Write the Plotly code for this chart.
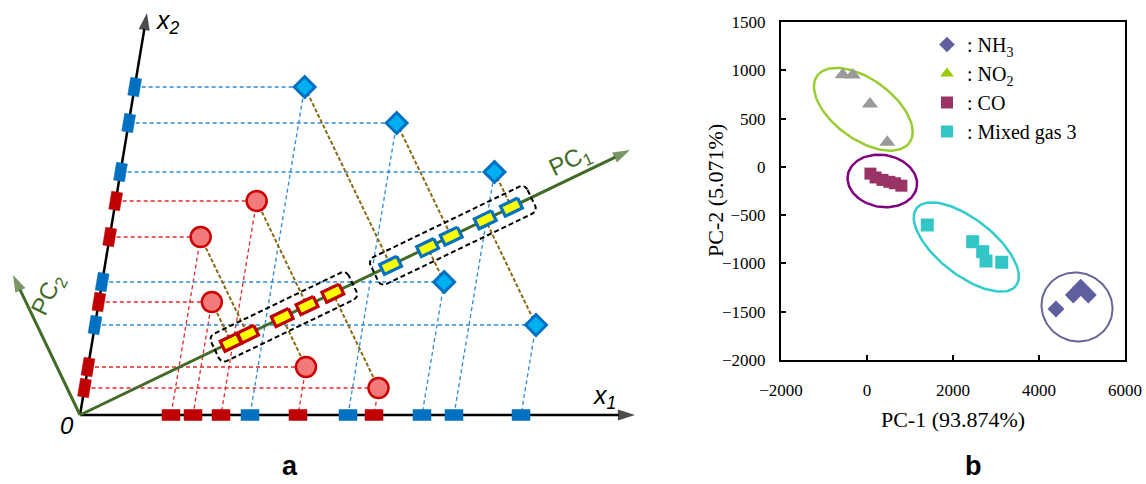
import numpy as np
import plotly.graph_objects as go

# ---------------- Panel a data (oblique coordinates along x1 / x2 axes) ----------------
red_x1 = [141, 91, 113, 218, 294]
red_x2 = [214, 178, 113, 48, 27]
blue_x1 = [170, 268, 374, 342, 441]
blue_x2 = [328, 292, 243, 133, 90]
x1_axis_len = 555
x2_axis_len = 402
pc1_tip = [550, 265]
pc2_tip = [-67, 140]

# ---------------- Panel b data ----------------
nh3_pc1 = [4395, 4798, 4970, 5147]
nh3_pc2 = [-1472, -1327, -1247, -1327]
no2_pc1 = [-565, -332, 70, 472]
no2_pc2 = [955, 950, 651, 255]
co_pc1 = [80, 200, 360, 520, 650, 800]
co_pc2 = [-70, -110, -135, -155, -170, -195]
mix_pc1 = [1402, 2458, 2691, 2767, 3132]
mix_pc2 = [-602, -775, -878, -975, -988]

x_ticks = [-2000, 0, 2000, 4000, 6000]
y_ticks = [-2000, -1500, -1000, -500, 0, 500, 1000, 1500]

# ---------------- geometry helpers ----------------
SLANT = 67 / 402  # x2 axis lean


def to_xy(a, b):
    return a + SLANT * b, b


def unit(v):
    v = np.asarray(v, float)
    return v / np.linalg.norm(v)


U = unit(pc1_tip)
V = np.array([-U[1], U[0]])
E2 = unit([SLANT, 1])


def rect_poly(c, u, L, W):
    v = np.array([-u[1], u[0]])
    xs, ys = [], []
    for sa, sb in [(1, 1), (1, -1), (-1, -1), (-1, 1), (1, 1)]:
        p = c + sa * L / 2 * u + sb * W / 2 * v
        xs.append(p[0]); ys.append(p[1])
    return xs, ys


def multi(polys):
    X, Y = [], []
    for xs, ys in polys:
        X += list(xs) + [None]
        Y += list(ys) + [None]
    return X, Y


def rounded_box(t0, t1, h, r, n=10):
    pts = []
    corners = [(t1 - r, h - r, 0), (t0 + r, h - r, 90), (t0 + r, -h + r, 180), (t1 - r, -h + r, 270)]
    for cs, cw, a0 in corners:
        for ang in np.radians(np.linspace(a0, a0 + 90, n)):
            pts.append((cs + r * np.cos(ang), cw + r * np.sin(ang)))
    pts.append(pts[0])
    xs = [s * U[0] + w * V[0] for s, w in pts]
    ys = [s * U[1] + w * V[1] for s, w in pts]
    return xs, ys


fig = go.Figure()

RED_DASH = '#e02a2a'
BLUE_DASH = '#2a8ad8'
BROWN = '#8a6a12'
RED = '#c00000'
BLUE = '#0070c0'
GREEN = '#416b26'


def proj_lines(x1s, x2s):
    X, Y = [], []
    for a, b in zip(x1s, x2s):
        px, py = to_xy(a, b)
        X += [SLANT * b, px, a, None]
        Y += [b, py, 0, None]
    return X, Y


def feet(x1s, x2s):
    out = []
    for a, b in zip(x1s, x2s):
        p = np.array(to_xy(a, b))
        t = p @ U
        out.append((t, t * U, p))
    return out


for x1s, x2s, col in [(red_x1, red_x2, RED_DASH), (blue_x1, blue_x2, BLUE_DASH)]:
    X, Y = proj_lines(x1s, x2s)
    fig.add_trace(go.Scatter(x=X, y=Y, mode='lines', line=dict(color=col, width=1.3, dash='4px,3px'),
                             hoverinfo='skip', showlegend=False, xaxis='x', yaxis='y'))

red_feet = feet(red_x1, red_x2)
blue_feet = feet(blue_x1, blue_x2)
X, Y = [], []
for t, f, p in red_feet + blue_feet:
    X += [p[0], f[0], None]
    Y += [p[1], f[1], None]
fig.add_trace(go.Scatter(x=X, y=Y, mode='lines', line=dict(color=BROWN, width=2, dash='4px,2px'),
                         hoverinfo='skip', showlegend=False, xaxis='x', yaxis='y'))

# axes lines with arrowheads
x2_tip = np.array(to_xy(0, x2_axis_len))
for tip, col, w in [((x1_axis_len, 0), 'black', 2.5), (tuple(x2_tip), 'black', 2.5),
                    (tuple(pc2_tip), GREEN, 3), (tuple(pc1_tip), GREEN, 3)]:
    fig.add_trace(go.Scatter(x=[0, tip[0]], y=[0, tip[1]], mode='lines+markers',
                             line=dict(color=col, width=w),
                             marker=dict(symbol=['circle', 'arrow'], size=[0, 18], color=col,
                                         angleref='previous', line=dict(width=0)),
                             hoverinfo='skip', showlegend=False, xaxis='x', yaxis='y'))

# dashed group boxes
for grp in [red_feet, blue_feet]:
    ts = [g[0] for g in grp]
    bx, by = rounded_box(min(ts) - 18, max(ts) + 22, 15, 6)
    fig.add_trace(go.Scatter(x=bx, y=by, mode='lines', line=dict(color='black', width=2, dash='5px,3px'),
                             hoverinfo='skip', showlegend=False, xaxis='x', yaxis='y'))

# ticks on x1 and x2 axes
for x1s, x2s, col in [(red_x1, red_x2, RED), (blue_x1, blue_x2, BLUE)]:
    polys = [rect_poly(np.array([a, 0.0]), np.array([1.0, 0.0]), 18, 11) for a in x1s]
    polys += [rect_poly(np.array([SLANT * b, b]), E2, 18, 11) for b in x2s]
    X, Y = multi(polys)
    fig.add_trace(go.Scatter(x=X, y=Y, mode='lines', fill='toself', fillcolor=col, line=dict(color=col, width=0.5),
                             hoverinfo='skip', showlegend=False, xaxis='x', yaxis='y'))

# projections on PC1
for grp, col in [(red_feet, RED), (blue_feet, BLUE)]:
    X, Y = multi([rect_poly(f, U, 19, 11) for t, f, p in grp])
    fig.add_trace(go.Scatter(x=X, y=Y, mode='lines', fill='toself', fillcolor='#ffff00',
                             line=dict(color=col, width=3.2), hoverinfo='skip', showlegend=False,
                             xaxis='x', yaxis='y'))

# sample points
rx, ry = zip(*[to_xy(a, b) for a, b in zip(red_x1, red_x2)])
bx_, by_ = zip(*[to_xy(a, b) for a, b in zip(blue_x1, blue_x2)])
fig.add_trace(go.Scatter(x=rx, y=ry, mode='markers',
                         marker=dict(symbol='circle', size=20, color='#f27a7a', line=dict(color='#cc0000', width=2.5)),
                         hoverinfo='skip', showlegend=False, xaxis='x', yaxis='y'))
fig.add_trace(go.Scatter(x=bx_, y=by_, mode='markers',
                         marker=dict(symbol='diamond', size=16, color='#00b0f0', line=dict(color=BLUE, width=3)),
                         hoverinfo='skip', showlegend=False, xaxis='x', yaxis='y'))

SANS = 'Liberation Sans, Arial, sans-serif'
SERIF = 'Liberation Serif, Times New Roman, serif'
annotations = [
    dict(x=524, y=18, text='<i>x<sub>1</sub></i>', font=dict(family=SANS, size=25, color='black')),
    dict(x=88, y=393, text='<i>x<sub>2</sub></i>', font=dict(family=SANS, size=25, color='black')),
    dict(x=490, y=254, text='PC<sub>1</sub>', textangle=-25.7, font=dict(family=SANS, size=24, color=GREEN)),
    dict(x=-32, y=120, text='PC<sub>2</sub>', textangle=-64, font=dict(family=SANS, size=24, color=GREEN)),
    dict(x=-13, y=-10, text='<i>0</i>', font=dict(family=SANS, size=24, color='black')),
    dict(x=210, y=-51, text='<b>a</b>', font=dict(family=SANS, size=27, color='black')),
]
for a in annotations:
    a.update(xref='x', yref='y', showarrow=False, xanchor='center', yanchor='middle')

annotations.append(dict(x=973 / 1146, y=1 - 466 / 484, xref='paper', yref='paper', showarrow=False,
                        xanchor='center', yanchor='middle',
                        text='<b>b</b>', font=dict(family=SANS, size=27, color='black')))
annotations.append(dict(x=715 / 1146, y=1 - 191 / 484, xref='paper', yref='paper', showarrow=False,
                        xanchor='center', yanchor='middle', textangle=-90,
                        text='PC-2 (5.071%)', font=dict(family=SERIF, size=22, color='black')))

# ---------------- Panel b ----------------
PX_PER_X = 344 / 8000
PX_PER_Y = 338 / 3500


def ellipse(cx, cy, a_px, b_px, ang_deg, n=120):
    th = np.radians(ang_deg)
    s = np.linspace(0, 2 * np.pi, n)
    ex = a_px * np.cos(s) * np.cos(th) - b_px * np.sin(s) * np.sin(th)
    ey = a_px * np.cos(s) * np.sin(th) + b_px * np.sin(s) * np.cos(th)
    return cx + ex / PX_PER_X, cy + ey / PX_PER_Y


for (cx, cy, a, b, ang, col, w) in [(-86, 596, 57, 30, -36, '#9acd32', 2.5),
                                     (356, -146, 35, 26, -10, '#800080', 2.5),
                                     (2309, -830, 63, 28, -38, '#33cccc', 2.5),
                                     (4884, -1451, 36, 34, -30, '#666699', 2)]:
    ex, ey = ellipse(cx, cy, a, b, ang)
    fig.add_trace(go.Scatter(x=ex, y=ey, mode='lines', line=dict(color=col, width=w), hoverinfo='skip',
                             showlegend=False, xaxis='x2', yaxis='y2'))

fig.add_trace(go.Scatter(x=nh3_pc1, y=nh3_pc2, mode='markers', name=': NH<sub>3</sub>',
                         marker=dict(symbol='diamond', size=13, color='#5f5f9f'), xaxis='x2', yaxis='y2'))
fig.add_trace(go.Scatter(x=[None], y=[None], mode='markers', name=': NO<sub>2</sub>',
                         marker=dict(symbol='triangle-up', size=14, color='#99cc00'), xaxis='x2', yaxis='y2'))
fig.add_trace(go.Scatter(x=no2_pc1, y=no2_pc2, mode='markers', showlegend=False,
                         marker=dict(symbol='triangle-up', size=14, color='#9a9a9a'), xaxis='x2', yaxis='y2'))
fig.add_trace(go.Scatter(x=co_pc1, y=co_pc2, mode='markers', name=': CO',
                         marker=dict(symbol='square', size=12, color='#993366'), xaxis='x2', yaxis='y2'))
fig.add_trace(go.Scatter(x=mix_pc1, y=mix_pc2, mode='markers', name=': Mixed gas 3',
                         marker=dict(symbol='square', size=13, color='#33c6c6'), xaxis='x2', yaxis='y2'))

axis_common = dict(showline=True, mirror=True, linecolor='black', linewidth=2, showgrid=False, zeroline=False,
                   ticks='inside', ticklen=5, tickwidth=1.5, tickcolor='black',
                   tickfont=dict(family=SERIF, size=17, color='black'))

fig.update_layout(
    width=1146, height=484, margin=dict(l=0, r=0, t=0, b=0, autoexpand=False),
    paper_bgcolor='white', plot_bgcolor='white',
    xaxis=dict(domain=[0, 660 / 1146], range=[-80, 580], visible=False, fixedrange=True),
    yaxis=dict(domain=[0, 1], range=[-69, 415], visible=False, fixedrange=True),
    xaxis2=dict(domain=[781 / 1146, 1125 / 1146], range=[-2000, 6000], tickvals=x_ticks, anchor='y2',
                ticklabelstandoff=14,
                title=dict(text='PC-1 (93.874%)', font=dict(family=SERIF, size=22, color='black'), standoff=12),
                **axis_common),
    yaxis2=dict(domain=[124 / 484, 462 / 484], range=[-2000, 1500], tickvals=y_ticks, anchor='x2',
                ticklabelstandoff=10, **axis_common),
    showlegend=True,
    legend=dict(x=927 / 1146, y=1 - 25 / 484, xanchor='left', yanchor='top', bgcolor='rgba(0,0,0,0)',
                font=dict(family=SERIF, size=20, color='black'), itemsizing='constant', tracegroupgap=0),
    annotations=annotations,
)

fig.write_html('out.html')
